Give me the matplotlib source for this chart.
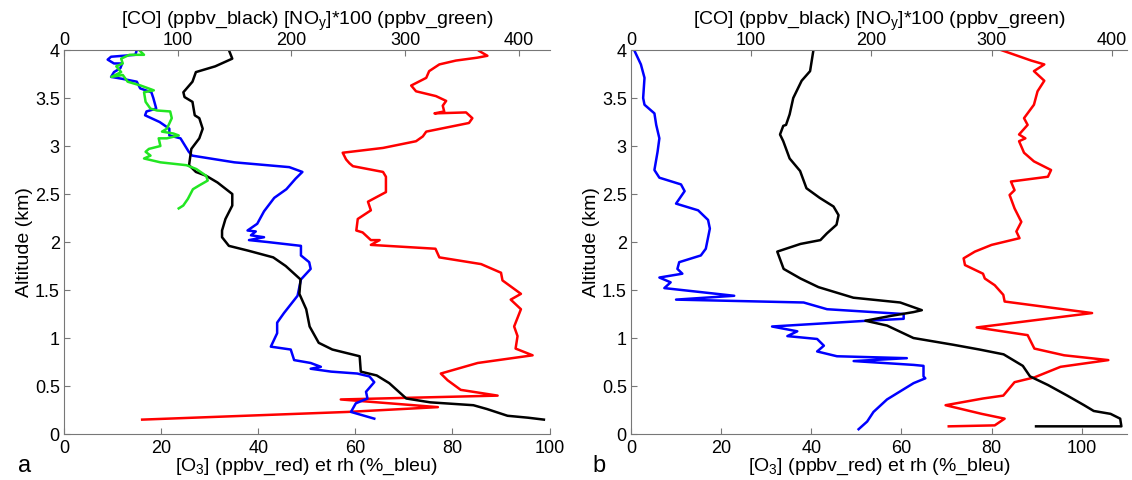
import numpy as np
import matplotlib
matplotlib.use('Agg')
import matplotlib.pyplot as plt
from matplotlib.ticker import FormatStrFormatter

plt.rcParams['font.family'] = ['Liberation Sans', 'DejaVu Sans']
plt.rcParams['mathtext.default'] = 'regular'

# ---- panel a : bottom axis = O3 (red) / rh (blue), top axis = CO (black) / NOy*100 (green)
o3_a = [85.5, 87.2, 85.1, 80.7, 77.3, 75.2, 74.6, 71.5, 72.5, 76.6, 78.7, 78.0, 78.3, 76.3,
        82.8, 84.1, 83.4, 74.6, 73.9, 72.5, 65.7, 57.4, 58.1, 58.8, 59.5, 65.7, 66.3, 66.3,
        62.6, 63.2, 60.5, 60.2, 61.5, 63.2, 65.0, 63.2, 76.5, 77.3, 85.9, 90.0, 90.3, 94.1,
        92.0, 94.1, 92.7, 93.4, 93.0, 96.5, 85.2, 77.6, 79.0, 81.7, 89.3, 57.0, 77.0, 58.4, 16.1]
o3_a_alt = [3.99, 3.94, 3.92, 3.89, 3.85, 3.78, 3.71, 3.63, 3.57, 3.52, 3.47, 3.42, 3.36, 3.34,
            3.35, 3.29, 3.24, 3.15, 3.10, 3.05, 2.98, 2.93, 2.86, 2.82, 2.79, 2.73, 2.68, 2.52,
            2.42, 2.33, 2.24, 2.12, 2.10, 2.02, 2.02, 1.97, 1.93, 1.84, 1.77, 1.68, 1.60, 1.46,
            1.40, 1.30, 1.12, 1.02, 0.89, 0.82, 0.74, 0.63, 0.56, 0.46, 0.40, 0.36, 0.28, 0.23, 0.15]

rh_a = [15.0, 14.7, 9.7, 9.0, 10.3, 12.0, 11.6, 10.3, 9.7, 12.0, 15.0, 15.7, 18.0, 18.4, 19.0,
        17.0, 16.7, 19.7, 21.7, 21.7, 24.0, 25.7, 26.4, 35.1, 46.4, 49.1, 47.7, 45.8, 43.3, 41.2,
        39.8, 37.8, 39.5, 38.5, 41.2, 38.1, 41.9, 48.8, 48.8, 50.5, 50.8, 48.8, 48.1, 45.3, 43.9,
        43.9, 42.6, 46.7, 47.4, 50.8, 52.9, 50.8, 55.0, 60.4, 62.9, 63.9, 62.2, 62.5, 60.1, 59.1, 63.9]
rh_a_alt = [4.0, 3.95, 3.93, 3.90, 3.86, 3.86, 3.81, 3.77, 3.72, 3.70, 3.67, 3.60, 3.56, 3.50, 3.39,
            3.36, 3.32, 3.25, 3.18, 3.11, 3.08, 2.94, 2.90, 2.83, 2.78, 2.73, 2.66, 2.55, 2.46, 2.32,
            2.19, 2.12, 2.11, 2.07, 2.05, 2.02, 2.00, 1.96, 1.86, 1.79, 1.72, 1.61, 1.44, 1.26, 1.16,
            1.05, 0.91, 0.88, 0.77, 0.74, 0.70, 0.68, 0.65, 0.63, 0.60, 0.54, 0.44, 0.37, 0.32, 0.23, 0.16]

co_a = [145, 148, 133, 116, 113, 105, 106, 113, 115, 119, 122, 119, 112, 110, 116, 125, 135, 148,
        148, 142, 139, 139, 145, 162, 184, 195, 208, 207, 213, 216, 224, 236, 260, 261, 275, 286,
        301, 322, 360, 372, 390, 408, 422]
co_a_alt = [4.0, 3.91, 3.83, 3.77, 3.67, 3.56, 3.51, 3.46, 3.32, 3.29, 3.18, 3.08, 2.97, 2.80, 2.73,
            2.69, 2.62, 2.50, 2.38, 2.24, 2.12, 2.05, 1.96, 1.91, 1.84, 1.75, 1.61, 1.46, 1.30, 1.12,
            0.95, 0.88, 0.81, 0.65, 0.61, 0.53, 0.37, 0.33, 0.30, 0.26, 0.19, 0.17, 0.15]

noy_a = [66, 70.4, 57.5, 50.3, 51.7, 46, 50.3, 41.7, 51.7, 56, 67.5, 79, 70.4, 71.8, 76, 81.9, 93.4,
         94.8, 90.5, 86.2, 96.3, 100.9, 90.5, 83.3, 84.8, 74.7, 71.8, 76.1, 70.4, 84.8, 107.8, 116.4,
         125, 126.4, 119, 113.4, 109, 104.9, 100.9]
noy_a_alt = [4.0, 3.95, 3.95, 3.91, 3.86, 3.83, 3.77, 3.72, 3.74, 3.67, 3.63, 3.58, 3.56, 3.46, 3.39,
             3.37, 3.36, 3.29, 3.18, 3.15, 3.13, 3.11, 3.08, 3.08, 3.0, 2.97, 2.94, 2.9, 2.87, 2.83,
             2.8, 2.76, 2.69, 2.64, 2.59, 2.55, 2.45, 2.38, 2.35]

# ---- panel b
o3_b = [82.1, 88.8, 91.7, 89.4, 91.7, 90.2, 89.4, 87.2, 88.0, 86.1, 87.5, 86.1, 87.2, 89.4, 93.2,
        92.5, 84.3, 85.1, 84.0, 85.1, 86.6, 85.5, 86.2, 80.0, 76.3, 73.8, 74.1, 78.1, 78.5, 80.7,
        82.6, 82.9, 102.3, 76.7, 88.0, 89.5, 96.1, 105.9, 95.3, 89.5, 85.1, 82.6, 78.1, 69.8, 77.8,
        82.9, 80.7, 70.5]
o3_b_alt = [4.0, 3.89, 3.85, 3.78, 3.68, 3.57, 3.43, 3.29, 3.22, 3.12, 3.08, 3.05, 2.93, 2.84, 2.75,
            2.68, 2.63, 2.54, 2.49, 2.35, 2.21, 2.11, 2.04, 1.97, 1.90, 1.83, 1.76, 1.67, 1.62, 1.55,
            1.45, 1.38, 1.26, 1.11, 1.03, 0.89, 0.82, 0.77, 0.70, 0.59, 0.54, 0.40, 0.37, 0.30, 0.21,
            0.16, 0.09, 0.08]

rh_b = [0.7, 2.2, 3.0, 2.7, 3.0, 5.2, 5.6, 6.3, 5.9, 5.2, 6.3, 11.1, 11.9, 10.0, 14.9, 17.1, 17.5,
        16.6, 15.5, 10.7, 10.3, 11.4, 6.3, 8.8, 7.4, 22.9, 10.0, 38.3, 43.5, 60.5, 60.5, 52.4, 31.3,
        36.9, 34.7, 41.3, 42.8, 41.3, 45.7, 61.2, 49.4, 62.7, 64.9, 64.9, 65.3, 62.7, 56.8, 53.8,
        52.4, 50.5]
rh_b_alt = [4.0, 3.85, 3.71, 3.50, 3.43, 3.34, 3.22, 3.08, 2.94, 2.75, 2.67, 2.60, 2.53, 2.40, 2.33,
            2.23, 2.14, 1.93, 1.86, 1.79, 1.72, 1.67, 1.63, 1.58, 1.52, 1.44, 1.40, 1.37, 1.30, 1.25,
            1.20, 1.18, 1.12, 1.07, 1.02, 0.99, 0.92, 0.86, 0.81, 0.79, 0.76, 0.72, 0.71, 0.60, 0.58,
            0.53, 0.36, 0.23, 0.13, 0.05]

co_b = [151.8, 149, 142, 135, 132, 129, 126.7, 124, 126.7, 132, 140.7, 146, 157, 168.5, 172.7, 171,
        163, 157.6, 141, 121.7, 127, 141, 156, 185, 224, 242, 235, 216, 195, 213, 235, 268, 290, 310,
        326, 332, 347, 363, 377, 385, 399, 407, 408, 337]
co_b_alt = [4.0, 3.78, 3.68, 3.50, 3.33, 3.22, 3.21, 3.12, 3.05, 2.87, 2.74, 2.56, 2.46, 2.37, 2.28,
            2.18, 2.09, 2.02, 1.98, 1.90, 1.72, 1.62, 1.53, 1.42, 1.37, 1.29, 1.27, 1.23, 1.18, 1.13,
            1.00, 0.93, 0.88, 0.83, 0.71, 0.60, 0.51, 0.40, 0.30, 0.24, 0.21, 0.16, 0.08, 0.08]

GREEN = '#22e622'
GRAY = '#777777'
TICK_FS = 13
LAB_FS = 14


def setup_panel(rect, xmax_bot, xmax_top):
    ax = fig.add_axes(rect)
    ax.set_xlim(0, xmax_bot)
    ax.set_ylim(0, 4)
    ax.set_xticks([0, 20, 40, 60, 80, 100])
    ax.set_yticks(np.arange(0, 4.01, 0.5))
    ax.yaxis.set_major_formatter(FormatStrFormatter('%g'))
    ax.set_ylabel('Altitude (km)', fontsize=LAB_FS, labelpad=1)
    ax.set_xlabel('[O$_3$] (ppbv_red) et rh (%_bleu)', fontsize=LAB_FS, labelpad=0)
    axt = ax.twiny()
    axt.set_xlim(0, xmax_top)
    axt.set_xticks([0, 100, 200, 300, 400])
    axt.set_xlabel('[CO] (ppbv_black) [NO$_y$]*100 (ppbv_green)', fontsize=LAB_FS, labelpad=5.5)
    for a in (ax, axt):
        a.tick_params(direction='in', length=4, width=0.8, color=GRAY, labelsize=TICK_FS, pad=1)
        a.spines['right'].set_visible(False)
        for s in a.spines.values():
            s.set_color(GRAY)
    ax.tick_params(axis='x', pad=4)
    ax.tick_params(axis='y', pad=3)
    axt.tick_params(axis='x', pad=0.5)
    axt.spines['left'].set_visible(False)
    axt.spines['bottom'].set_visible(False)
    ax.spines['top'].set_visible(False)
    return ax, axt


fig = plt.figure(figsize=(11.32, 4.8), dpi=100)

lw = 1.8
ax, axt = setup_panel([0.0565, 0.0958, 0.429, 0.8], 100, 427)
ax.plot(o3_a, o3_a_alt, color='red', lw=lw)
ax.plot(rh_a, rh_a_alt, color='blue', lw=lw)
axt.plot(co_a, co_a_alt, color='black', lw=lw)
axt.plot(noy_a, noy_a_alt, color=GREEN, lw=lw)
fig.text(0.016, 0.016, 'a', fontsize=17)

bx, bxt = setup_panel([0.5574, 0.0958, 0.438, 0.8], 110, 412.5)
bx.plot(o3_b, o3_b_alt, color='red', lw=lw)
bx.plot(rh_b, rh_b_alt, color='blue', lw=lw)
bxt.plot(co_b, co_b_alt, color='black', lw=lw)
fig.text(0.523, 0.016, 'b', fontsize=17)

fig.savefig('out.png', dpi=100)
